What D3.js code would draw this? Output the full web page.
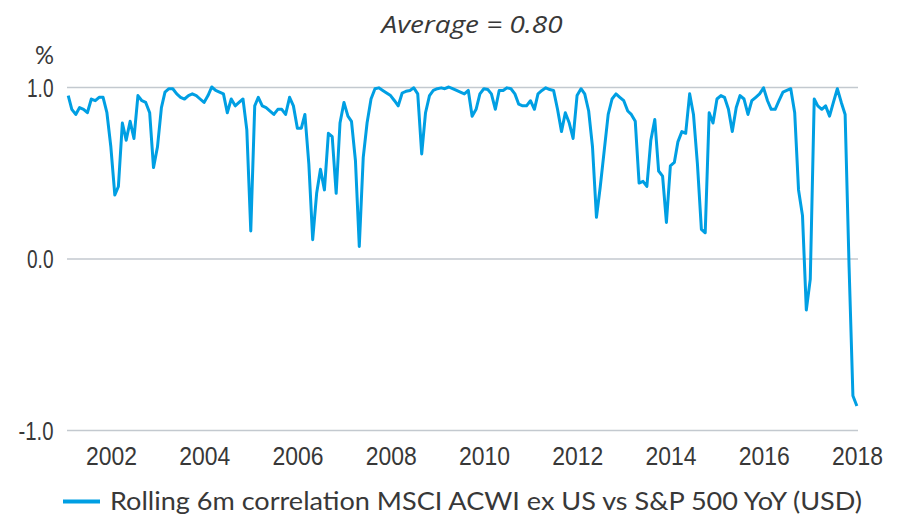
<!DOCTYPE html>
<html>
<head>
<meta charset="utf-8">
<script src="https://cdn.jsdelivr.net/npm/d3@7"></script>
<style>
  body { margin: 0; background: #fff; }
  svg { display: block; font-family: Lato, "Open Sans", sans-serif; }
  .tick text { fill: #383838; }
</style>
</head>
<body>
<svg id="chart" width="897" height="516"></svg>
<script>
// monthly observations, month-end, Jan 2001 .. Dec 2017
const firstMonth = "2001-01";
const corr = [
  0.95, 0.87, 0.84, 0.88, 0.87, 0.85, 0.93, 0.92, 0.94, 0.94, 0.85, 0.65,
  0.37, 0.42, 0.79, 0.69, 0.80, 0.70, 0.95, 0.92, 0.91, 0.85, 0.53, 0.65,
  0.88, 0.97, 0.99, 0.99, 0.96, 0.94, 0.93, 0.95, 0.96, 0.95, 0.93, 0.91,
  0.95, 1.00, 0.98, 0.97, 0.96, 0.85, 0.93, 0.89, 0.91, 0.93, 0.75, 0.16,
  0.89, 0.94, 0.89, 0.88, 0.86, 0.84, 0.87, 0.87, 0.84, 0.94, 0.89, 0.76,
  0.76, 0.84, 0.55, 0.11, 0.38, 0.52, 0.40, 0.73, 0.71, 0.38, 0.79, 0.91,
  0.83, 0.80, 0.57, 0.07, 0.59, 0.79, 0.93, 0.99, 0.995, 0.98, 0.965, 0.95,
  0.92, 0.89, 0.965, 0.975, 0.98, 0.995, 0.96, 0.61, 0.85, 0.95, 0.98, 0.99,
  0.995, 0.99, 1.00, 0.99, 0.98, 0.97, 0.96, 0.98, 0.83, 0.87, 0.96, 0.99,
  0.985, 0.96, 0.87, 0.98, 0.98, 0.995, 0.99, 0.96, 0.90, 0.89, 0.89, 0.92,
  0.87, 0.96, 0.98, 0.995, 0.985, 0.98, 0.87, 0.74, 0.85, 0.79, 0.70, 0.95,
  0.99, 0.96, 0.86, 0.65, 0.24, 0.42, 0.63, 0.84, 0.93, 0.96, 0.94, 0.92,
  0.86, 0.84, 0.80, 0.44, 0.45, 0.42, 0.69, 0.81, 0.51, 0.48, 0.21, 0.54,
  0.56, 0.68, 0.74, 0.73, 0.96, 0.84, 0.55, 0.17, 0.15, 0.85, 0.79, 0.93,
  0.95, 0.94, 0.87, 0.74, 0.88, 0.95, 0.93, 0.84, 0.92, 0.94, 0.96, 0.995,
  0.92, 0.87, 0.87, 0.92, 0.97, 0.98, 0.99, 0.85, 0.40, 0.25, -0.30, -0.12,
  0.93, 0.89, 0.87, 0.89, 0.83, 0.91, 0.99, 0.91, 0.84, -0.05, -0.80, -0.86
];
const yTicks = [-1, 0, 1];
const xTickYears = [2002, 2004, 2006, 2008, 2010, 2012, 2014, 2016, 2018];
const titleText = "Average = 0.80";
const legendText = "Rolling 6m correlation MSCI ACWI ex US vs S&P 500 YoY (USD)";

const blue = "#009fe3";
const gridColor = "#c3c9cf";
const textColor = "#383838";

const svg = d3.select("#chart");

const start = d3.timeParse("%Y-%m")(firstMonth);
// each point sits at the end of its month
const data = corr.map((v, i) => ({
  date: d3.timeDay.offset(d3.timeMonth.offset(start, i + 1), -1),
  value: v
}));

const x = d3.scaleTime()
  .domain([new Date(2001, 0, 1), new Date(2018, 0, 1)])
  .range([64.4, 857]);

const y = d3.scaleLinear()
  .domain([-1, 1])
  .range([430, 87]);

// the source font is a narrow one, so squeeze labels to its widths
const fmtY = d => d3.format(".1f")(d).replace("\u2212", "-");

// horizontal grid + y labels
const yAxis = svg.append("g")
  .attr("transform", "translate(858,0)")
  .call(d3.axisLeft(y)
    .tickValues(yTicks)
    .tickSize(858 - 67)
    .tickPadding(4)
    .tickFormat(fmtY));
yAxis.select(".domain").remove();
yAxis.selectAll(".tick line")
  .attr("stroke", gridColor)
  .attr("stroke-width", 1.5);
yAxis.selectAll(".tick text")
  .attr("x", 53.5 - 858)
  .attr("dy", "0.36em")
  .style("font-size", "25px")
  .attr("textLength", d => d < 0 ? 35 : 26.5)
  .attr("lengthAdjust", "spacingAndGlyphs");

svg.append("text")
  .attr("x", 44.5)
  .attr("y", 64)
  .attr("text-anchor", "middle")
  .attr("fill", textColor)
  .style("font-size", "25px")
  .attr("textLength", 19)
  .attr("lengthAdjust", "spacingAndGlyphs")
  .text("%");

// x axis labels only
const xAxis = svg.append("g")
  .attr("transform", "translate(0,465)")
  .call(d3.axisBottom(x)
    .tickValues(xTickYears.map(yr => new Date(yr, 0, 1)))
    .tickSize(0)
    .tickFormat(d3.timeFormat("%Y")));
xAxis.select(".domain").remove();
xAxis.selectAll(".tick text")
  .attr("y", 0)
  .attr("dy", 0)
  .style("font-size", "26px")
  .attr("textLength", 51)
  .attr("lengthAdjust", "spacingAndGlyphs");

// series
const line = d3.line()
  .x(d => x(d.date))
  .y(d => y(d.value));

svg.append("path")
  .datum(data)
  .attr("fill", "none")
  .attr("stroke", blue)
  .attr("stroke-width", 3)
  .attr("stroke-linejoin", "round")
  .attr("d", line);

// title
svg.append("text")
  .attr("x", 472)
  .attr("y", 33)
  .attr("text-anchor", "middle")
  .attr("fill", textColor)
  .style("font-family", "'Open Sans', sans-serif")
  .style("font-size", "24px")
  .style("font-style", "italic")
  .attr("textLength", 181)
  .attr("lengthAdjust", "spacingAndGlyphs")
  .text(titleText);

// legend
svg.append("line")
  .attr("x1", 63).attr("x2", 100)
  .attr("y1", 501.5).attr("y2", 501.5)
  .attr("stroke", blue)
  .attr("stroke-width", 4);

svg.append("text")
  .attr("x", 110)
  .attr("y", 510)
  .attr("fill", textColor)
  .style("font-size", "25px")
  .attr("textLength", 752)
  .attr("lengthAdjust", "spacingAndGlyphs")
  .text(legendText);
</script>
</body>
</html>
